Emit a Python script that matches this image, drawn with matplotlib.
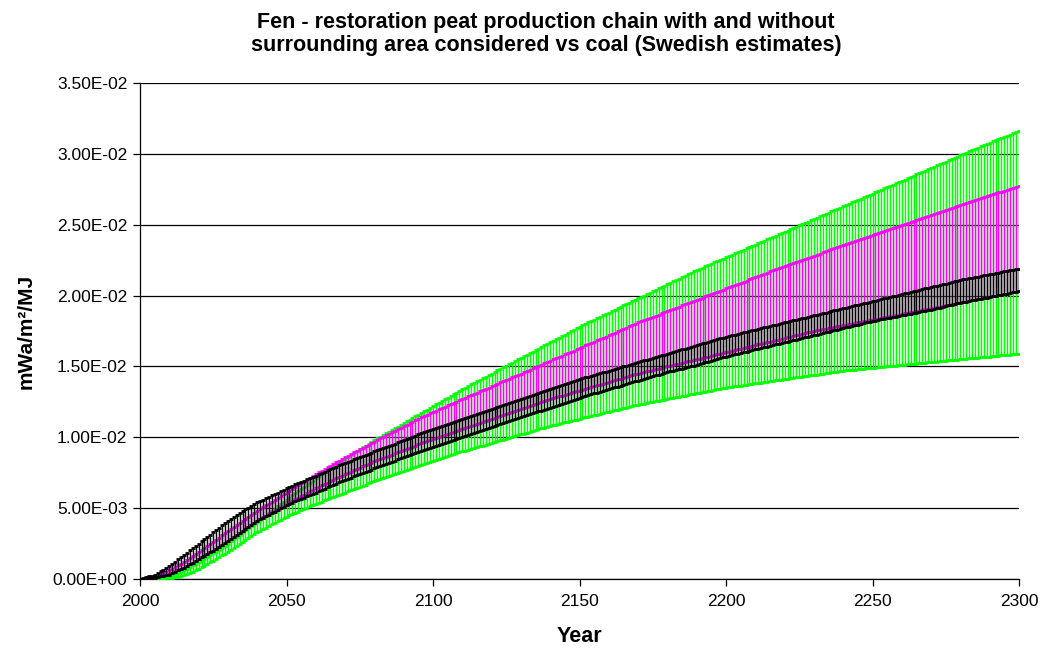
import matplotlib
matplotlib.use("Agg")
import matplotlib.pyplot as plt
import numpy as np
from matplotlib.ticker import FuncFormatter

# Years 2000..2300, one range bar per year
years = np.arange(2000, 2301)

# All band limits below are in units of 1e-5 mWa/m2/MJ
UNIT = 1e-5

green_low = [
    0, 0, 0, 0, 0, 1, 1, 2, 3, 4,
    5, 8, 12, 16, 20, 25, 33, 42, 51, 60,
    70, 82, 94, 106, 118, 130, 142, 154, 166, 178,
    190, 204, 218, 232, 246, 260, 274, 288, 302, 316,
    330, 341, 352, 363, 374, 385, 396, 407, 418, 429,
    440, 449, 458, 467, 476, 485, 494, 503, 512, 521,
    530, 538, 546, 554, 562, 570, 578, 586, 594, 602,
    610, 618, 626, 634, 642, 650, 658, 666, 674, 682,
    690, 697, 704, 711, 718, 725, 732, 739, 746, 753,
    760, 767, 774, 781, 788, 795, 802, 809, 816, 823,
    830, 837, 844, 851, 858, 865, 872, 879, 886, 893,
    900, 906, 912, 918, 924, 930, 936, 942, 948, 954,
    960, 966, 972, 978, 984, 990, 996, 1002, 1008, 1014,
    1020, 1026, 1032, 1038, 1044, 1050, 1056, 1062, 1068, 1074,
    1080, 1085, 1090, 1095, 1100, 1105, 1110, 1115, 1120, 1125,
    1130, 1135, 1140, 1145, 1150, 1155, 1160, 1165, 1170, 1175,
    1180, 1185, 1190, 1195, 1200, 1205, 1210, 1215, 1220, 1225,
    1230, 1234, 1238, 1242, 1246, 1250, 1254, 1258, 1262, 1266,
    1270, 1274, 1278, 1282, 1286, 1290, 1294, 1298, 1302, 1306,
    1310, 1314, 1318, 1322, 1326, 1330, 1334, 1338, 1342, 1346,
    1350, 1353, 1356, 1359, 1362, 1365, 1368, 1371, 1374, 1377,
    1380, 1383, 1386, 1389, 1392, 1395, 1398, 1401, 1404, 1407,
    1410, 1413, 1416, 1419, 1422, 1425, 1428, 1431, 1434, 1437,
    1440, 1443, 1446, 1449, 1452, 1455, 1458, 1461, 1464, 1467,
    1470, 1472, 1474, 1476, 1478, 1480, 1482, 1484, 1486, 1488,
    1490, 1492, 1494, 1496, 1498, 1500, 1502, 1504, 1506, 1508,
    1510, 1512, 1514, 1516, 1518, 1520, 1522, 1524, 1526, 1528,
    1530, 1532, 1534, 1536, 1538, 1540, 1542, 1544, 1546, 1548,
    1550, 1552, 1554, 1556, 1558, 1560, 1562, 1564, 1566, 1568,
    1570, 1572, 1574, 1576, 1578, 1580, 1582, 1584, 1586, 1588,
    1590,
]

green_high = [
    0, 1, 2, 3, 4, 5, 8, 11, 14, 17,
    20, 28, 36, 44, 52, 60, 72, 84, 96, 108,
    120, 132, 144, 156, 168, 180, 194, 208, 222, 236,
    250, 266, 282, 298, 314, 330, 344, 358, 372, 386,
    400, 416, 432, 448, 464, 480, 496, 512, 528, 544,
    560, 575, 590, 605, 620, 635, 650, 665, 680, 695,
    710, 724, 738, 752, 766, 780, 794, 808, 822, 836,
    850, 863, 876, 889, 902, 915, 928, 941, 954, 967,
    980, 992, 1004, 1016, 1028, 1040, 1052, 1064, 1076, 1088,
    1100, 1112, 1124, 1136, 1148, 1160, 1172, 1184, 1196, 1208,
    1220, 1232, 1244, 1256, 1268, 1280, 1292, 1304, 1316, 1328,
    1340, 1351, 1362, 1373, 1384, 1395, 1406, 1417, 1428, 1439,
    1450, 1461, 1472, 1483, 1494, 1505, 1516, 1527, 1538, 1549,
    1560, 1571, 1582, 1593, 1604, 1615, 1626, 1637, 1648, 1659,
    1670, 1681, 1692, 1703, 1714, 1725, 1736, 1747, 1758, 1769,
    1780, 1790, 1800, 1810, 1820, 1830, 1840, 1850, 1860, 1870,
    1880, 1890, 1900, 1910, 1920, 1930, 1940, 1950, 1960, 1970,
    1980, 1990, 2000, 2010, 2020, 2030, 2040, 2050, 2060, 2070,
    2080, 2090, 2100, 2110, 2120, 2130, 2140, 2150, 2160, 2170,
    2180, 2189, 2198, 2207, 2216, 2225, 2234, 2243, 2252, 2261,
    2270, 2279, 2288, 2297, 2306, 2315, 2324, 2333, 2342, 2351,
    2360, 2369, 2378, 2387, 2396, 2405, 2414, 2423, 2432, 2441,
    2450, 2459, 2468, 2477, 2486, 2495, 2504, 2513, 2522, 2531,
    2540, 2549, 2558, 2567, 2576, 2585, 2594, 2603, 2612, 2621,
    2630, 2639, 2648, 2657, 2666, 2675, 2684, 2693, 2702, 2711,
    2720, 2729, 2738, 2747, 2756, 2765, 2774, 2783, 2792, 2801,
    2810, 2819, 2828, 2837, 2846, 2855, 2864, 2873, 2882, 2891,
    2900, 2909, 2918, 2927, 2936, 2945, 2954, 2963, 2972, 2981,
    2990, 2999, 3008, 3017, 3026, 3035, 3044, 3053, 3062, 3071,
    3080, 3088, 3096, 3104, 3112, 3120, 3128, 3136, 3144, 3152,
    3160,
]

magenta_low = [
    0, 2, 4, 6, 8, 10, 15, 20, 25, 30,
    35, 44, 53, 62, 71, 80, 92, 104, 116, 128,
    140, 152, 164, 176, 188, 200, 214, 228, 242, 256,
    270, 284, 298, 312, 326, 340, 354, 368, 382, 396,
    410, 422, 434, 446, 458, 470, 482, 494, 506, 518,
    530, 541, 552, 563, 574, 585, 596, 607, 618, 629,
    640, 650, 660, 670, 680, 690, 700, 710, 720, 730,
    740, 749, 758, 767, 776, 785, 794, 803, 812, 821,
    830, 838, 846, 854, 862, 870, 878, 886, 894, 902,
    910, 918, 926, 934, 942, 950, 958, 966, 974, 982,
    990, 997, 1004, 1011, 1018, 1025, 1032, 1039, 1046, 1053,
    1060, 1067, 1074, 1081, 1088, 1095, 1102, 1109, 1116, 1123,
    1130, 1137, 1144, 1151, 1158, 1165, 1172, 1179, 1186, 1193,
    1200, 1207, 1214, 1221, 1228, 1235, 1242, 1249, 1256, 1263,
    1270, 1276, 1282, 1288, 1294, 1300, 1306, 1312, 1318, 1324,
    1330, 1336, 1342, 1348, 1354, 1360, 1366, 1372, 1378, 1384,
    1390, 1396, 1402, 1408, 1414, 1420, 1426, 1432, 1438, 1444,
    1450, 1455, 1460, 1465, 1470, 1475, 1480, 1485, 1490, 1495,
    1500, 1505, 1510, 1515, 1520, 1525, 1530, 1535, 1540, 1545,
    1550, 1555, 1560, 1565, 1570, 1575, 1580, 1585, 1590, 1595,
    1600, 1605, 1610, 1615, 1620, 1625, 1630, 1635, 1640, 1645,
    1650, 1655, 1660, 1665, 1670, 1675, 1680, 1685, 1690, 1695,
    1700, 1705, 1710, 1715, 1720, 1725, 1730, 1735, 1740, 1745,
    1750, 1754, 1758, 1762, 1766, 1770, 1774, 1778, 1782, 1786,
    1790, 1794, 1798, 1802, 1806, 1810, 1814, 1818, 1822, 1826,
    1830, 1834, 1838, 1842, 1846, 1850, 1854, 1858, 1862, 1866,
    1870, 1874, 1878, 1882, 1886, 1890, 1894, 1898, 1902, 1906,
    1910, 1914, 1918, 1922, 1926, 1930, 1934, 1938, 1942, 1946,
    1950, 1954, 1958, 1962, 1966, 1970, 1974, 1978, 1982, 1986,
    1990, 1994, 1998, 2002, 2006, 2010, 2014, 2018, 2022, 2026,
    2030,
]

magenta_high = [
    0, 3, 6, 9, 12, 15, 24, 33, 42, 51,
    60, 72, 84, 96, 108, 120, 134, 148, 162, 176,
    190, 204, 218, 232, 246, 260, 276, 292, 308, 324,
    340, 354, 368, 382, 396, 410, 424, 438, 452, 466,
    480, 493, 506, 519, 532, 545, 558, 571, 584, 597,
    610, 623, 636, 649, 662, 675, 688, 701, 714, 727,
    740, 752, 764, 776, 788, 800, 812, 824, 836, 848,
    860, 871, 882, 893, 904, 915, 926, 937, 948, 959,
    970, 981, 992, 1003, 1014, 1025, 1036, 1047, 1058, 1069,
    1080, 1090, 1100, 1110, 1120, 1130, 1140, 1150, 1160, 1170,
    1180, 1189, 1198, 1207, 1216, 1225, 1234, 1243, 1252, 1261,
    1270, 1279, 1288, 1297, 1306, 1315, 1324, 1333, 1342, 1351,
    1360, 1369, 1378, 1387, 1396, 1405, 1414, 1423, 1432, 1441,
    1450, 1459, 1468, 1477, 1486, 1495, 1504, 1513, 1522, 1531,
    1540, 1549, 1558, 1567, 1576, 1585, 1594, 1603, 1612, 1621,
    1630, 1639, 1648, 1657, 1666, 1675, 1684, 1693, 1702, 1711,
    1720, 1729, 1738, 1747, 1756, 1765, 1774, 1783, 1792, 1801,
    1810, 1818, 1826, 1834, 1842, 1850, 1858, 1866, 1874, 1882,
    1890, 1898, 1906, 1914, 1922, 1930, 1938, 1946, 1954, 1962,
    1970, 1978, 1986, 1994, 2002, 2010, 2018, 2026, 2034, 2042,
    2050, 2058, 2066, 2074, 2082, 2090, 2098, 2106, 2114, 2122,
    2130, 2138, 2146, 2154, 2162, 2170, 2178, 2186, 2194, 2202,
    2210, 2217, 2224, 2231, 2238, 2245, 2252, 2259, 2266, 2273,
    2280, 2288, 2296, 2304, 2312, 2320, 2328, 2336, 2344, 2352,
    2360, 2367, 2374, 2381, 2388, 2395, 2402, 2409, 2416, 2423,
    2430, 2437, 2444, 2451, 2458, 2465, 2472, 2479, 2486, 2493,
    2500, 2507, 2514, 2521, 2528, 2535, 2542, 2549, 2556, 2563,
    2570, 2577, 2584, 2591, 2598, 2605, 2612, 2619, 2626, 2633,
    2640, 2647, 2654, 2661, 2668, 2675, 2682, 2689, 2696, 2703,
    2710, 2716, 2722, 2728, 2734, 2740, 2746, 2752, 2758, 2764,
    2770,
]

black_low = [
    0, 2, 4, 6, 8, 10, 14, 18, 22, 26,
    30, 40, 50, 60, 70, 80, 92, 104, 116, 128,
    140, 152, 164, 176, 188, 200, 214, 228, 242, 256,
    270, 284, 298, 312, 326, 340, 354, 368, 382, 396,
    410, 421, 432, 443, 454, 465, 476, 487, 498, 509,
    520, 529, 538, 547, 556, 565, 574, 583, 592, 601,
    610, 619, 628, 637, 646, 655, 664, 673, 682, 691,
    700, 708, 716, 724, 732, 740, 748, 756, 764, 772,
    780, 788, 796, 804, 812, 820, 828, 836, 844, 852,
    860, 867, 874, 881, 888, 895, 902, 909, 916, 923,
    930, 937, 944, 951, 958, 965, 972, 979, 986, 993,
    1000, 1007, 1014, 1021, 1028, 1035, 1042, 1049, 1056, 1063,
    1070, 1077, 1084, 1091, 1098, 1105, 1112, 1119, 1126, 1133,
    1140, 1147, 1154, 1161, 1168, 1175, 1182, 1189, 1196, 1203,
    1210, 1217, 1224, 1231, 1238, 1245, 1252, 1259, 1266, 1273,
    1280, 1286, 1292, 1298, 1304, 1310, 1316, 1322, 1328, 1334,
    1340, 1346, 1352, 1358, 1364, 1370, 1376, 1382, 1388, 1394,
    1400, 1406, 1412, 1418, 1424, 1430, 1436, 1442, 1448, 1454,
    1460, 1465, 1470, 1475, 1480, 1485, 1490, 1495, 1500, 1505,
    1510, 1516, 1522, 1528, 1534, 1540, 1546, 1552, 1558, 1564,
    1570, 1575, 1580, 1585, 1590, 1595, 1600, 1605, 1610, 1615,
    1620, 1625, 1630, 1635, 1640, 1645, 1650, 1655, 1660, 1665,
    1670, 1675, 1680, 1685, 1690, 1695, 1700, 1705, 1710, 1715,
    1720, 1725, 1730, 1735, 1740, 1745, 1750, 1755, 1760, 1765,
    1770, 1775, 1780, 1785, 1790, 1795, 1800, 1805, 1810, 1815,
    1820, 1824, 1828, 1832, 1836, 1840, 1844, 1848, 1852, 1856,
    1860, 1864, 1868, 1872, 1876, 1880, 1884, 1888, 1892, 1896,
    1900, 1905, 1910, 1915, 1920, 1925, 1930, 1935, 1940, 1945,
    1950, 1954, 1958, 1962, 1966, 1970, 1974, 1978, 1982, 1986,
    1990, 1994, 1998, 2002, 2006, 2010, 2014, 2018, 2022, 2026,
    2030,
]

black_high = [
    0, 6, 12, 18, 24, 30, 42, 54, 66, 78,
    90, 106, 122, 138, 154, 170, 186, 202, 218, 234,
    250, 266, 282, 298, 314, 330, 346, 362, 378, 394,
    410, 424, 438, 452, 466, 480, 492, 504, 516, 528,
    540, 550, 560, 570, 580, 590, 600, 610, 620, 630,
    640, 649, 658, 667, 676, 685, 694, 703, 712, 721,
    730, 739, 748, 757, 766, 775, 784, 793, 802, 811,
    820, 828, 836, 844, 852, 860, 868, 876, 884, 892,
    900, 908, 916, 924, 932, 940, 948, 956, 964, 972,
    980, 988, 996, 1004, 1012, 1020, 1028, 1036, 1044, 1052,
    1060, 1067, 1074, 1081, 1088, 1095, 1102, 1109, 1116, 1123,
    1130, 1137, 1144, 1151, 1158, 1165, 1172, 1179, 1186, 1193,
    1200, 1207, 1214, 1221, 1228, 1235, 1242, 1249, 1256, 1263,
    1270, 1277, 1284, 1291, 1298, 1305, 1312, 1319, 1326, 1333,
    1340, 1347, 1354, 1361, 1368, 1375, 1382, 1389, 1396, 1403,
    1410, 1416, 1422, 1428, 1434, 1440, 1446, 1452, 1458, 1464,
    1470, 1476, 1482, 1488, 1494, 1500, 1506, 1512, 1518, 1524,
    1530, 1536, 1542, 1548, 1554, 1560, 1566, 1572, 1578, 1584,
    1590, 1596, 1602, 1608, 1614, 1620, 1626, 1632, 1638, 1644,
    1650, 1656, 1662, 1668, 1674, 1680, 1686, 1692, 1698, 1704,
    1710, 1715, 1720, 1725, 1730, 1735, 1740, 1745, 1750, 1755,
    1760, 1765, 1770, 1775, 1780, 1785, 1790, 1795, 1800, 1805,
    1810, 1815, 1820, 1825, 1830, 1835, 1840, 1845, 1850, 1855,
    1860, 1865, 1870, 1875, 1880, 1885, 1890, 1895, 1900, 1905,
    1910, 1915, 1920, 1925, 1930, 1935, 1940, 1945, 1950, 1955,
    1960, 1965, 1970, 1975, 1980, 1985, 1990, 1995, 2000, 2005,
    2010, 2015, 2020, 2025, 2030, 2035, 2040, 2045, 2050, 2055,
    2060, 2065, 2070, 2075, 2080, 2085, 2090, 2095, 2100, 2105,
    2110, 2114, 2118, 2122, 2126, 2130, 2134, 2138, 2142, 2146,
    2150, 2154, 2158, 2162, 2166, 2170, 2174, 2178, 2182, 2186,
    2190,
]

title_text = ("Fen - restoration peat production chain with and without\n"
              "surrounding area considered vs coal (Swedish estimates)")
x_label = "Year"
y_label = "mWa/m²/MJ"
x_ticks = [2000, 2050, 2100, 2150, 2200, 2250, 2300]
y_ticks = [0.0, 0.005, 0.01, 0.015, 0.02, 0.025, 0.03, 0.035]

plt.rcParams['font.family'] = ['Liberation Sans', 'DejaVu Sans']

fig = plt.figure(figsize=(10.42, 6.51), dpi=100)
ax = fig.add_axes([140 / 1042, 1 - 579 / 651, 879 / 1042, 496 / 651])


def draw_range(low, high, color, z):
    lo = np.asarray(low, dtype=float) * UNIT
    hi = np.asarray(high, dtype=float) * UNIT
    assert len(lo) == len(years) and len(hi) == len(years)
    mid = (lo + hi) / 2.0
    ax.errorbar(years, mid, yerr=[mid - lo, hi - mid], fmt='none',
                ecolor=color, elinewidth=1.05, capsize=1.7, capthick=2.0,
                zorder=z)


draw_range(green_low, green_high, '#00FF00', 3)
draw_range(magenta_low, magenta_high, '#FF00FF', 4)
draw_range(black_low, black_high, '#000000', 5)

ax.set_xlim(2000, 2300)
ax.set_ylim(0, 0.035)
ax.set_xticks(x_ticks)
ax.set_yticks(y_ticks)
ax.yaxis.set_major_formatter(FuncFormatter(lambda v, p: f"{v:.2E}"))

ax.yaxis.grid(True, color='black', linewidth=0.9)
ax.set_axisbelow(True)

for side in ('top', 'right'):
    ax.spines[side].set_visible(False)
for side in ('left', 'bottom'):
    ax.spines[side].set_color('black')
    ax.spines[side].set_linewidth(0.9)

ax.tick_params(axis='both', direction='out', length=5, width=0.9,
               labelsize=12.5, colors='black')
ax.tick_params(axis='x', pad=6)
ax.tick_params(axis='y', pad=4)

ax.set_xlabel(x_label, fontsize=15.5, fontweight='bold', labelpad=12)
ax.set_ylabel(y_label, fontsize=15, fontweight='bold', labelpad=12)

fig.text(546 / 1042, 1 - 34 / 651, title_text, ha='center', va='center',
         fontsize=15.5, fontweight='bold', linespacing=1.1)

fig.savefig('out.png', dpi=100, facecolor='white')
